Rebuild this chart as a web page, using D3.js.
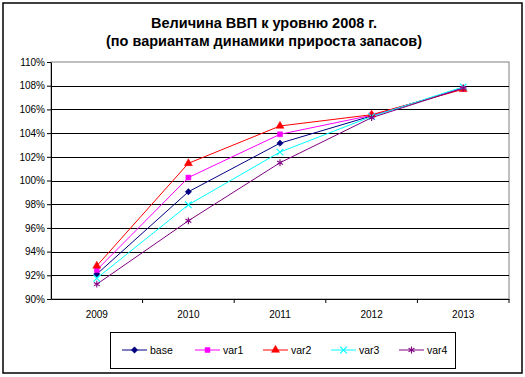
<!DOCTYPE html>
<html>
<head>
<meta charset="utf-8">
<script src="https://cdn.jsdelivr.net/npm/d3@7"></script>
<style>
  body { margin: 0; background: #fff; }
  text { font-family: "Liberation Sans", Arial, sans-serif; }
</style>
</head>
<body>
<svg id="drawing_region"></svg>
<script>
const years = [ "2009", "2010", "2011", "2012", "2013" ];
const base = [ 92.1, 99.05, 103.15, 105.45, 107.8 ];
const var1 = [ 92.45, 100.25, 103.9, 105.5, 107.75 ];
const var2 = [ 92.8, 101.45, 104.6, 105.55, 107.7 ];
const var3 = [ 91.75, 97.95, 102.4, 105.4, 107.9 ];
const var4 = [ 91.25, 96.6, 101.5, 105.3, 107.8 ];
const yTicks = [ 90, 92, 94, 96, 98, 100, 102, 104, 106, 108, 110 ];

const series = [
    { name: "base", values: base, color: "#000080", symbol: "diamond" },
    { name: "var1", values: var1, color: "#ff00ff", symbol: "square" },
    { name: "var2", values: var2, color: "#ff0000", symbol: "triangle" },
    { name: "var3", values: var3, color: "#00ffff", symbol: "x" },
    { name: "var4", values: var4, color: "#800080", symbol: "star" }
];

const width = 525, height = 377;
const margin = { top: 62, right: 16, bottom: 78, left: 51 };
const inner_width = width - margin.left - margin.right;
const inner_height = height - margin.top - margin.bottom;

const svg = d3.select( "#drawing_region" )
    .attr( "width", width )
    .attr( "height", height );

svg.append( "rect" )
    .attr( "x", 3 ).attr( "y", 3 )
    .attr( "width", 519 ).attr( "height", 370 )
    .attr( "fill", "#fff" )
    .attr( "stroke", "#000" )
    .attr( "stroke-width", 1.5 );

svg.append( "text" )
    .attr( "x", 264 ).attr( "y", 28 )
    .attr( "text-anchor", "middle" )
    .attr( "font-size", 14.5 ).attr( "font-weight", "bold" )
    .attr( "textLength", 226 ).attr( "lengthAdjust", "spacingAndGlyphs" )
    .text( "Величина ВВП к уровню 2008 г." );
svg.append( "text" )
    .attr( "x", 264 ).attr( "y", 46 )
    .attr( "text-anchor", "middle" )
    .attr( "font-size", 14.5 ).attr( "font-weight", "bold" )
    .attr( "textLength", 316 ).attr( "lengthAdjust", "spacingAndGlyphs" )
    .text( "(по вариантам динамики прироста запасов)" );

const chart = svg.append( "g" )
    .attr( "transform", `translate(${margin.left}, ${margin.top})` );

const xscale = d3.scaleBand()
    .domain( years )
    .range( [ 0, inner_width ] );

const yscale = d3.scaleLinear()
    .domain( [ 90, 110 ] )
    .range( [ inner_height, 0 ] );

// plot area border (gray top/right)
chart.append( "rect" )
    .attr( "x", 0 ).attr( "y", 0 )
    .attr( "width", inner_width ).attr( "height", inner_height )
    .attr( "fill", "none" )
    .attr( "stroke", "#808080" )
    .attr( "stroke-width", 1 );

// gridlines
chart.append( "g" )
    .selectAll( "line" )
    .data( yTicks.filter( d => d > 90 && d < 110 ) )
    .join( "line" )
    .attr( "x1", 0 ).attr( "x2", inner_width )
    .attr( "y1", d => Math.round( yscale( d ) ) + 0.5 )
    .attr( "y2", d => Math.round( yscale( d ) ) + 0.5 )
    .attr( "stroke", "#000" );

const yaxis = d3.axisLeft( yscale )
    .tickValues( yTicks )
    .tickFormat( d => d + "%" )
    .tickSize( 4 )
    .tickSizeOuter( 0 );

const yaxis_group = chart.append( "g" ).call( yaxis );
yaxis_group.selectAll( "text" )
    .attr( "font-size", 10 )
    .attr( "font-family", "Liberation Sans, Arial, sans-serif" )
    .attr( "x", -6 );

const xaxis = d3.axisBottom( xscale )
    .tickSize( 0 )
    .tickPadding( 12 );

const xaxis_group = chart.append( "g" )
    .attr( "transform", `translate(0, ${inner_height})` )
    .call( xaxis );
xaxis_group.selectAll( "text" )
    .attr( "font-size", 10 )
    .attr( "font-family", "Liberation Sans, Arial, sans-serif" );

// x ticks at category boundaries
xaxis_group.selectAll( ".bound" )
    .data( years.map( d => xscale( d ) + xscale.bandwidth() ) )
    .join( "line" )
    .attr( "class", "bound" )
    .attr( "x1", d => d ).attr( "x2", d => d )
    .attr( "y1", 0 ).attr( "y2", 4 )
    .attr( "stroke", "#000" );

chart.selectAll( ".domain" ).attr( "stroke", "#000" );
chart.selectAll( ".tick line" ).attr( "stroke", "#000" );

const symbolType = {
    diamond: d3.symbolDiamond2,
    square: d3.symbolSquare,
    triangle: d3.symbolTriangle,
    x: d3.symbolX,
    star: d3.symbolAsterisk
};

function drawMarker( g, s, size ) {
    const filled = s.symbol === "diamond" || s.symbol === "square" || s.symbol === "triangle";
    const sizes = { diamond: 26, square: 25, triangle: 28, x: 30, star: 32 };
    g.append( "path" )
        .attr( "d", d3.symbol( symbolType[ s.symbol ], size || sizes[ s.symbol ] )() )
        .attr( "fill", filled ? s.color : "none" )
        .attr( "stroke", s.color )
        .attr( "stroke-width", filled ? 0.5 : 1.1 );
}

const line = d3.line()
    .x( ( d, i ) => xscale( years[ i ] ) + xscale.bandwidth() / 2 )
    .y( d => yscale( d ) );

series.forEach( s => {
    chart.append( "path" )
        .datum( s.values )
        .attr( "fill", "none" )
        .attr( "stroke", s.color )
        .attr( "stroke-width", 1 )
        .attr( "d", line );
} );

series.forEach( s => {
    s.values.forEach( ( v, i ) => {
        const g = chart.append( "g" )
            .attr( "transform", `translate(${xscale( years[ i ] ) + xscale.bandwidth() / 2}, ${yscale( v )})` );
        drawMarker( g, s );
    } );
} );

// legend
const legend = svg.append( "g" );
legend.append( "rect" )
    .attr( "x", 110.5 ).attr( "y", 332.5 )
    .attr( "width", 345 ).attr( "height", 36 )
    .attr( "fill", "#fff" )
    .attr( "stroke", "#000" );

const legendX = [ 122, 195, 263, 331, 399 ];
series.forEach( ( s, i ) => {
    const g = legend.append( "g" )
        .attr( "transform", `translate(${legendX[ i ]}, 350)` );
    g.append( "line" )
        .attr( "x1", 0 ).attr( "x2", 25 )
        .attr( "stroke", s.color )
        .attr( "stroke-width", 1 );
    const m = g.append( "g" ).attr( "transform", "translate(12.5, 0)" );
    drawMarker( m, s );
    g.append( "text" )
        .attr( "x", 28 ).attr( "y", 4 )
        .attr( "font-size", 10.5 )
        .text( s.name );
} );
</script>
</body>
</html>
